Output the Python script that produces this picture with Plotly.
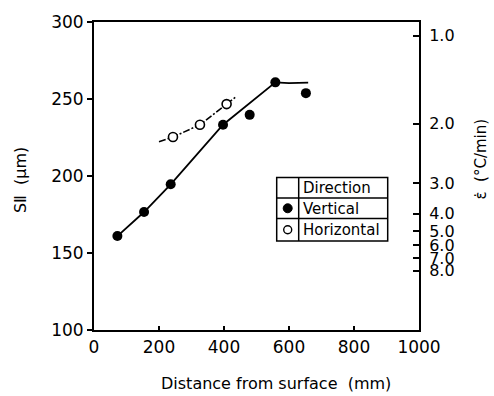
import plotly.graph_objects as go

# ---- data ----
vert_x = [72, 154, 236, 397, 479, 558, 652]
vert_s = [161, 176.6, 194.6, 233.3, 239.7, 260.8, 253.8]
vert_fit_x = [72, 154, 236, 397, 558, 600, 659]
vert_fit_s = [161, 176.6, 194.6, 233.3, 260.8, 260.3, 260.6]

horiz_x = [243, 326, 408]
horiz_s = [225.3, 233.3, 246.7]
horiz_fit_x = [200, 243, 326, 408, 436]
horiz_fit_s = [222.3, 225.3, 233.3, 246.7, 251.3]

x_ticks = [0, 200, 400, 600, 800, 1000]
s_ticks = [100, 150, 200, 250, 300]
rate_labels = ["1.0", "2.0", "3.0", "4.0", "5.0", "6.0", "7.0", "8.0"]
rate_pos_s = [291.1, 234.0, 195.2, 175.5, 164.0, 155.0, 146.5, 138.5]

legend_rows = ["Direction", "Vertical", "Horizontal"]

FONT = "DejaVu Sans"

fig = go.Figure()
fig.add_trace(go.Scatter(x=vert_fit_x, y=vert_fit_s, mode="lines",
                         line=dict(color="black", width=1.8), showlegend=False))
fig.add_trace(go.Scatter(x=horiz_fit_x, y=horiz_fit_s, mode="lines",
                         line=dict(color="black", width=1.6, dash="7px,2px,2px,2px"),
                         showlegend=False))
fig.add_trace(go.Scatter(x=vert_x, y=vert_s, mode="markers",
                         marker=dict(color="black", size=10, line=dict(width=0)),
                         showlegend=False))
fig.add_trace(go.Scatter(x=horiz_x, y=horiz_s, mode="markers",
                         marker=dict(color="white", size=9, line=dict(color="black", width=1.6)),
                         showlegend=False))
# invisible trace to activate right axis
fig.add_trace(go.Scatter(x=[None], y=[None], yaxis="y2", showlegend=False))

fig.update_layout(
    width=494, height=396,
    margin=dict(l=94, r=75, t=15, b=66),
    paper_bgcolor="white", plot_bgcolor="white",
    font=dict(family=FONT, color="black"),
    xaxis=dict(range=[0, 1000], tickvals=x_ticks, ticks="inside", ticklen=4,
               tickwidth=1.5, tickcolor="black", showline=True, linecolor="black",
               linewidth=2, mirror=True, showgrid=False, zeroline=False,
               tickfont=dict(size=17, family=FONT), ticklabelstandoff=1),
    yaxis=dict(range=[100, 300], tickvals=s_ticks, ticks="outside", ticklen=5,
               tickwidth=1.5, tickcolor="black", showline=True, linecolor="black",
               linewidth=2, showgrid=False, zeroline=False,
               tickfont=dict(size=17, family=FONT)),
    yaxis2=dict(range=[100, 300], overlaying="y", side="right",
                tickvals=rate_pos_s, ticktext=rate_labels, ticks="inside",
                ticklen=6, tickwidth=1.5, tickcolor="black", showline=True,
                linecolor="black", linewidth=2, showgrid=False, zeroline=False,
                tickfont=dict(size=16, family=FONT), ticklabelstandoff=5),
)

def px(xp):
    return (xp - 94.3) / 325.0

def py(yp):
    return (330.0 - yp) / 315.0

anns = [
    dict(text="Distance from surface  (mm)", x=px(276), y=py(385), xref="paper",
         yref="paper", xanchor="center", yanchor="middle", showarrow=False,
         font=dict(size=16, family=FONT)),
    dict(text="SⅡ  (μm)", x=px(21), y=py(177), xref="paper", yref="paper",
         xanchor="center", yanchor="middle",
         showarrow=False, textangle=-90, font=dict(size=16, family=FONT)),
    dict(text="ε̇  (°C/min)", x=px(481), y=py(155), xref="paper", yref="paper",
         xanchor="center", yanchor="middle",
         showarrow=False, textangle=-90, font=dict(size=15, family=FONT)),
]
row_centers = [185, 206, 228]
for name, yc in zip(legend_rows, row_centers):
    anns.append(dict(text=name, x=px(301), y=py(yc), xref="paper", yref="paper",
                     xanchor="left", yanchor="middle", showarrow=False,
                     font=dict(size=15, family=FONT)))

shapes = []
L, D, R = px(277), px(299), px(388)
T, B = py(174), py(239)
shapes.append(dict(type="rect", xref="paper", yref="paper", x0=L, x1=R, y0=B, y1=T,
                   line=dict(color="black", width=1.5), fillcolor="white", layer="below"))
shapes.append(dict(type="line", xref="paper", yref="paper", x0=D, x1=D, y0=B, y1=T,
                   line=dict(color="black", width=1.5)))
for yl in [195, 216]:
    shapes.append(dict(type="line", xref="paper", yref="paper", x0=L, x1=R,
                       y0=py(yl), y1=py(yl), line=dict(color="black", width=1.5)))
shapes.append(dict(type="circle", xref="paper", yref="paper", xsizemode="pixel",
                   ysizemode="pixel", xanchor=px(288), yanchor=py(205.5),
                   x0=-4.5, x1=4.5, y0=-4.5, y1=4.5, fillcolor="black",
                   line=dict(color="black", width=1)))
shapes.append(dict(type="circle", xref="paper", yref="paper", xsizemode="pixel",
                   ysizemode="pixel", xanchor=px(288), yanchor=py(227.5),
                   x0=-4, x1=4, y0=-4, y1=4, fillcolor="white",
                   line=dict(color="black", width=1.4)))

fig.update_layout(annotations=anns, shapes=shapes)
fig.write_html("out.html")
